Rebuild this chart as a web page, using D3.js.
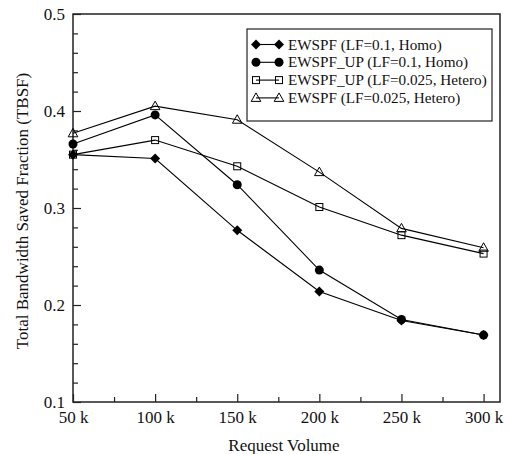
<!DOCTYPE html>
<html>
<head>
<meta charset="utf-8">
<script src="https://cdn.jsdelivr.net/npm/d3@7/dist/d3.min.js"></script>
<style>
  html, body { margin: 0; padding: 0; background: #fff; }
  svg { display: block; }
  text { font-family: "Liberation Serif", "Times New Roman", serif; fill: #111; }
</style>
</head>
<body>
<svg id="chart" width="510" height="454"></svg>
<script>
// Request volume (thousands of requests)
const volumes = [50, 100, 150, 200, 250, 300];
const xTickLabels = ["50 k", "100 k", "150 k", "200 k", "250 k", "300 k"];
const yTicks = [0.1, 0.2, 0.3, 0.4, 0.5];

// Total bandwidth saved fraction per scheme
const ewspfHomo      = [0.355, 0.351, 0.277, 0.214, 0.184, 0.169];
const ewspfUpHomo    = [0.366, 0.396, 0.324, 0.236, 0.185, 0.169];
const ewspfUpHetero  = [0.355, 0.370, 0.343, 0.301, 0.272, 0.253];
const ewspfHetero    = [0.377, 0.405, 0.391, 0.337, 0.279, 0.259];

const seriesNames = [
  "EWSPF (LF=0.1, Homo)",
  "EWSPF_UP (LF=0.1, Homo)",
  "EWSPF_UP (LF=0.025, Hetero)",
  "EWSPF (LF=0.025, Hetero)"
];
const seriesValues = [ewspfHomo, ewspfUpHomo, ewspfUpHetero, ewspfHetero];
const seriesMarkers = ["diamond", "circle", "square", "triangle"];

const serif = '"Liberation Serif", "Times New Roman", serif';
const svg = d3.select("#chart");
const plotLeft = 73, plotRight = 500, plotTop = 14, plotBottom = 402;

const x = d3.scaleLinear().domain([50, 310]).range([plotLeft, plotRight]);
const y = d3.scaleLinear().domain([0.1, 0.5]).range([plotBottom, plotTop]);

// Frame
svg.append("rect")
  .attr("x", plotLeft).attr("y", plotTop)
  .attr("width", plotRight - plotLeft).attr("height", plotBottom - plotTop)
  .attr("fill", "none").attr("stroke", "#222").attr("stroke-width", 1.5);

// X axis: major ticks with labels, minor ticks in between, all pointing inward
const xAxis = d3.axisBottom(x)
  .tickValues(volumes)
  .tickFormat((d, i) => xTickLabels[i])
  .tickSizeInner(-8).tickSizeOuter(0).tickPadding(9);
const gx = svg.append("g").attr("transform", `translate(0,${plotBottom})`).call(xAxis);
gx.select(".domain").remove();
gx.selectAll("line").attr("stroke", "#222").attr("stroke-width", 1.2);
gx.selectAll("text").style("font-size", "17px").style("font-family", serif);

const xMinor = d3.axisBottom(x).tickValues([75, 125, 175, 225, 275])
  .tickFormat("").tickSizeInner(-5).tickSizeOuter(0);
const gxm = svg.append("g").attr("transform", `translate(0,${plotBottom})`).call(xMinor);
gxm.select(".domain").remove();
gxm.selectAll("line").attr("stroke", "#222").attr("stroke-width", 1.2);

// Y axis
const yAxis = d3.axisLeft(y)
  .tickValues(yTicks)
  .tickFormat(d3.format(".1f"))
  .tickSizeInner(-8).tickSizeOuter(0).tickPadding(8);
const gy = svg.append("g").attr("transform", `translate(${plotLeft},0)`).call(yAxis);
gy.select(".domain").remove();
gy.selectAll("line").attr("stroke", "#222").attr("stroke-width", 1.2);
gy.selectAll("text").style("font-size", "17px").style("font-family", serif);

const yMinorVals = d3.range(0.12, 0.5, 0.02).filter(v => Math.abs(v * 10 - Math.round(v * 10)) > 1e-6);
const yMinor = d3.axisLeft(y).tickValues(yMinorVals)
  .tickFormat("").tickSizeInner(-5).tickSizeOuter(0);
const gym = svg.append("g").attr("transform", `translate(${plotLeft},0)`).call(yMinor);
gym.select(".domain").remove();
gym.selectAll("line").attr("stroke", "#222").attr("stroke-width", 1.2);

// Axis titles
svg.append("text")
  .attr("x", 284).attr("y", 451)
  .attr("text-anchor", "middle")
  .style("font-size", "17px").style("font-family", serif)
  .text("Request Volume");

svg.append("text")
  .attr("transform", "translate(28,211) rotate(-90)")
  .attr("text-anchor", "middle")
  .style("font-size", "17px").style("font-family", serif)
  .text("Total Bandwidth Saved Fraction (TBSF)");

// Marker drawing
function drawMarker(g, type, cx, cy) {
  if (type === "diamond") {
    g.append("path")
      .attr("d", `M${cx},${cy - 5}L${cx + 5},${cy}L${cx},${cy + 5}L${cx - 5},${cy}Z`)
      .attr("fill", "#000");
  } else if (type === "circle") {
    g.append("circle").attr("cx", cx).attr("cy", cy).attr("r", 4.5).attr("fill", "#000");
  } else if (type === "square") {
    g.append("rect").attr("x", cx - 3.5).attr("y", cy - 3.5)
      .attr("width", 7).attr("height", 7)
      .attr("fill", "none").attr("stroke", "#000").attr("stroke-width", 1);
  } else if (type === "triangle") {
    g.append("path")
      .attr("d", `M${cx},${cy - 5}L${cx + 4.8},${cy + 3.5}L${cx - 4.8},${cy + 3.5}Z`)
      .attr("fill", "none").attr("stroke", "#000").attr("stroke-width", 1);
  }
}

const line = d3.line().x(d => x(d[0])).y(d => y(d[1]));

seriesValues.forEach((vals, i) => {
  const pts = volumes.map((v, j) => [v, vals[j]]);
  const g = svg.append("g");
  g.append("path").datum(pts)
    .attr("d", line)
    .attr("fill", "none").attr("stroke", "#000").attr("stroke-width", 1.1);
  pts.forEach(p => drawMarker(g, seriesMarkers[i], x(p[0]), y(p[1])));
});

// Legend
const lg = svg.append("g");
lg.append("rect")
  .attr("x", 247).attr("y", 29).attr("width", 245).attr("height", 92)
  .attr("fill", "#fff").attr("stroke", "#222").attr("stroke-width", 1.2);
seriesNames.forEach((name, i) => {
  const cy = 44.5 + i * 17.8;
  lg.append("line").attr("x1", 256).attr("x2", 279).attr("y1", cy).attr("y2", cy)
    .attr("stroke", "#000").attr("stroke-width", 1.1);
  drawMarker(lg, seriesMarkers[i], 256, cy);
  drawMarker(lg, seriesMarkers[i], 279, cy);
  lg.append("text").attr("x", 288).attr("y", cy + 5)
    .style("font-size", "15.2px").style("font-family", serif)
    .text(name);
});
</script>
</body>
</html>
